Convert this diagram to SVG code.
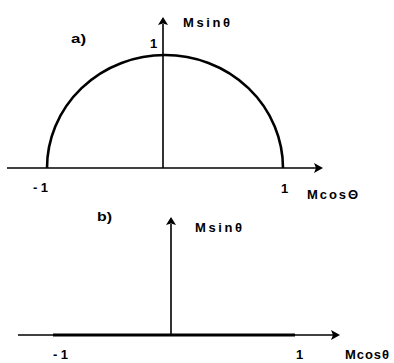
<svg xmlns="http://www.w3.org/2000/svg" width="394" height="363" viewBox="0 0 394 363">
<style>
.ax{stroke:#000;stroke-width:1.6;fill:none}
.cv{stroke:#000;stroke-width:2.6;fill:none}
.ah{fill:#000;stroke:none}
text{font-family:"Liberation Sans",Arial,sans-serif;font-weight:bold;font-size:13px;fill:#000}
</style>
<rect width="394" height="363" fill="#fff"/>
<g id="plot-a">
<g id="connectors-a">
<line class="ax" x1="7" y1="168" x2="316" y2="168"/>
<path class="ah" d="M323,168 L314,163 L316,168 L314,173 Z"/>
<line class="ax" x1="163" y1="168" x2="163" y2="24"/>
<path class="ah" d="M163,17 L158,25 L163,23.5 L168,25 Z"/>
</g>
<g id="curve-a"><path class="cv" d="M47,168 A118,113 0 0 1 283,168"/></g>
<g id="labels-a">
<text x="71" y="43" textLength="15" lengthAdjust="spacingAndGlyphs">a)</text>
<text x="183" y="27" textLength="47" lengthAdjust="spacing">Msinθ</text>
<text x="150" y="48">1</text>
<text x="33" y="192" textLength="15" lengthAdjust="spacing">-1</text>
<text x="281" y="193">1</text>
<text x="307" y="199" textLength="51" lengthAdjust="spacing">McosΘ</text>
</g>
</g>
<g id="plot-b">
<g id="connectors-b">
<line class="ax" x1="18" y1="335" x2="333" y2="335"/>
<line x1="53" y1="335" x2="295" y2="335" stroke="#000" stroke-width="3"/>
<path class="ah" d="M340,335 L331,330 L333,335 L331,340 Z"/>
<line class="ax" x1="171" y1="335" x2="171" y2="224"/>
<path class="ah" d="M171,217 L166,225 L171,223.5 L176,225 Z"/>
</g>
<g id="labels-b">
<text x="97" y="221" textLength="15" lengthAdjust="spacingAndGlyphs">b)</text>
<text x="195" y="232" textLength="47" lengthAdjust="spacing">Msinθ</text>
<text x="53" y="359" textLength="15" lengthAdjust="spacing">-1</text>
<text x="296" y="359">1</text>
<text x="345" y="359" textLength="44" lengthAdjust="spacing">Mcosθ</text>
</g>
</g>
</svg>
